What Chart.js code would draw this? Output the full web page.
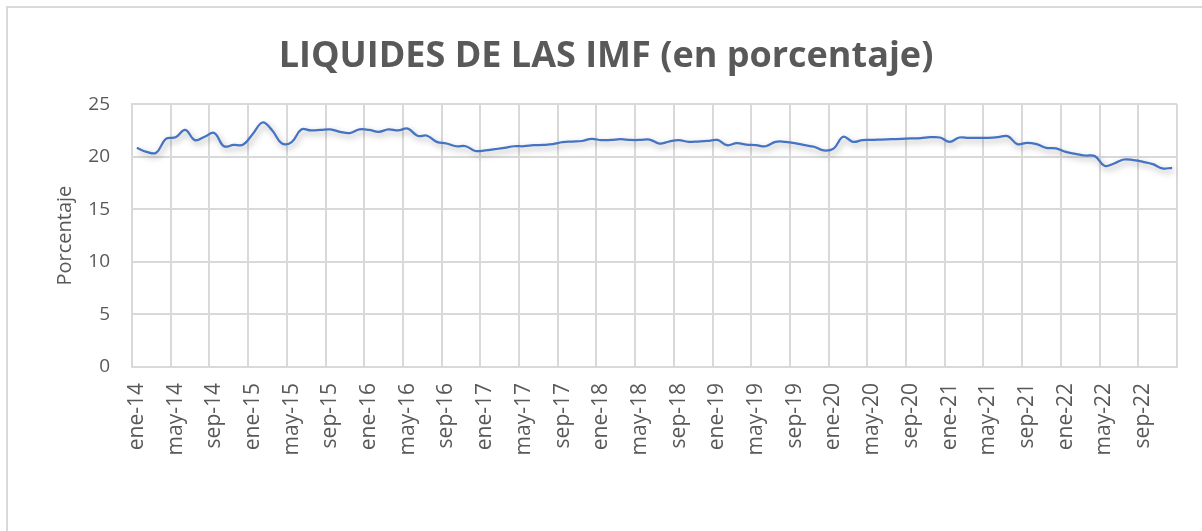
<!DOCTYPE html>
<html>
<head>
<meta charset="utf-8">
<script src="https://cdn.jsdelivr.net/npm/chart.js@4/dist/chart.umd.min.js"></script>
<style>
  html, body { margin: 0; padding: 0; background: #fff; }
  #wrap { position: relative; width: 1202px; height: 531px; overflow: hidden; }
  #frame { position: absolute; left: 6px; top: 6px; width: 1300px; height: 600px; border-left: 2px solid #d9d9d9; border-top: 2px solid #d9d9d9; }
  canvas { position: absolute; left: 0; top: 0; }
</style>
</head>
<body>
<div id="wrap">
  <div id="frame"></div>
  <canvas id="chart" width="1202" height="531"></canvas>
</div>
<script>
// month names as used on the axis
const monthNames = ['ene', 'feb', 'mar', 'abr', 'may', 'jun', 'jul', 'ago', 'sep', 'oct', 'nov', 'dic'];
const years = ['14', '15', '16', '17', '18', '19', '20', '21', '22'];

// categories: ene-14 .. dic-22
const categories = [];
years.forEach(y => monthNames.forEach(m => categories.push(m + '-' + y)));

// liquidez (%), one value per month
const liquidez = [
    // 2014
    20.85, 20.47, 20.38, 21.7, 21.85, 22.56, 21.58, 21.9, 22.27, 21.0, 21.13, 21.16,
    // 2015
    22.2, 23.26, 22.5, 21.26, 21.4, 22.6, 22.5, 22.55, 22.6, 22.37, 22.25, 22.6,
    // 2016
    22.55, 22.37, 22.6, 22.5, 22.68, 22.0, 22.0, 21.42, 21.26, 21.0, 21.0, 20.55,
    // 2017
    20.6, 20.72, 20.85, 21.0, 21.0, 21.1, 21.13, 21.2, 21.39, 21.45, 21.5, 21.7,
    // 2018
    21.58, 21.6, 21.67, 21.6, 21.6, 21.64, 21.26, 21.45, 21.58, 21.42, 21.45, 21.5,
    // 2019
    21.6, 21.1, 21.3, 21.16, 21.1, 21.0, 21.42, 21.42, 21.3, 21.1, 20.95, 20.6,
    // 2020
    20.78, 21.9, 21.42, 21.58, 21.6, 21.64, 21.67, 21.7, 21.74, 21.77, 21.86, 21.83,
    // 2021
    21.42, 21.83, 21.8, 21.8, 21.8, 21.86, 21.96, 21.2, 21.33, 21.2, 20.85, 20.8,
    // 2022
    20.47, 20.28, 20.12, 20.07, 19.14, 19.36, 19.74, 19.68, 19.52, 19.3, 18.89, 18.95
];

const yTicks = [0, 5, 10, 15, 20, 25];
const labelEvery = 4;

const textColor = '#595959';
const gridColor = '#d9d9d9';
const lineColor = '#4472c4';

// soft drop shadow under the line, like the Excel effect
const lineShadow = {
    id: 'lineShadow',
    beforeDatasetDraw(chart) {
        const ctx = chart.ctx;
        ctx.save();
        ctx.shadowColor = 'rgba(0,0,0,0.35)';
        ctx.shadowBlur = 6;
        ctx.shadowOffsetX = 2;
        ctx.shadowOffsetY = 3;
    },
    afterDatasetDraw(chart) {
        chart.ctx.restore();
    }
};

new Chart(document.getElementById('chart'), {
    type: 'line',
    data: {
        labels: categories,
        datasets: [{
            label: 'Liquidez',
            data: liquidez,
            borderColor: lineColor,
            borderWidth: 2.25,
            pointRadius: 0,
            tension: 0.4,
            fill: false
        }]
    },
    options: {
        responsive: false,
        animation: false,
        layout: { padding: { top: 0, left: 35, right: 25, bottom: 0 } },
        plugins: {
            legend: { display: false },
            tooltip: { enabled: false },
            title: {
                display: true,
                text: 'LIQUIDES DE LAS IMF (en porcentaje)',
                color: textColor,
                font: { family: 'Open Sans', size: 36, weight: 'bold' },
                padding: { top: 35, bottom: 26 }
            }
        },
        scales: {
            x: {
                offset: true,
                grid: {
                    offset: true,
                    drawTicks: false,
                    lineWidth: 2,
                    color: (c) => (c.tick === undefined || c.index % labelEvery === 0) ? gridColor : 'rgba(0,0,0,0)'
                },
                border: { display: true, color: gridColor, width: 2 },
                ticks: {
                    autoSkip: false,
                    minRotation: 90,
                    maxRotation: 90,
                    padding: 16,
                    color: textColor,
                    font: { family: 'Open Sans', size: 21 },
                    callback: function (value, index) {
                        return index % labelEvery === 0 ? this.getLabelForValue(value) : '';
                    }
                },
                afterFit: (scale) => {
                    scale.height = 164;
                    scale.paddingLeft = 0;
                    scale.paddingRight = 0;
                }
            },
            y: {
                min: 0,
                max: 25,
                afterBuildTicks: (scale) => { scale.ticks = yTicks.map(v => ({ value: v })); },
                grid: { color: gridColor, lineWidth: 2, drawTicks: false },
                border: { display: true, color: gridColor, width: 2 },
                ticks: {
                    padding: 22,
                    color: textColor,
                    font: { family: 'Open Sans', size: 19 }
                },
                title: {
                    display: true,
                    text: 'Porcentaje',
                    color: textColor,
                    font: { family: 'Open Sans', size: 20 },
                    padding: { top: 18, bottom: 0 }
                },
                afterFit: (scale) => { scale.width = 97; }
            }
        }
    },
    plugins: [lineShadow]
});
</script>
</body>
</html>
